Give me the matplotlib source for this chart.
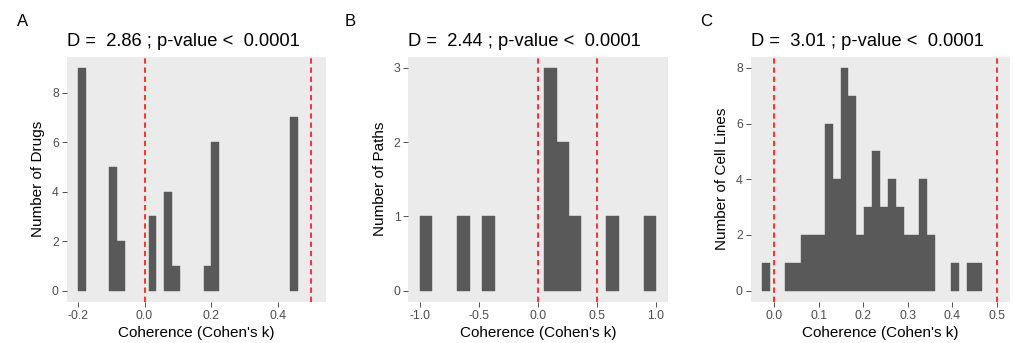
import numpy as np
import matplotlib
matplotlib.use("Agg")
import matplotlib.pyplot as plt

plt.rcParams['font.family'] = ['Liberation Sans', 'DejaVu Sans']

# histogram counts per bin (zero bins included)
drug_counts = [9, 0, 0, 0, 5, 2, 0, 0, 0, 3, 0, 4, 1, 0, 0, 0, 1, 6, 0, 0,
               0, 0, 0, 0, 0, 0, 0, 7, 0, 0]
path_counts = [1, 0, 0, 1, 0, 1, 0, 0, 0, 0, 3, 2, 1, 0, 0, 1, 0, 0, 1]
cell_counts = [1, 0, 0, 1, 1, 2, 2, 2, 6, 4, 8, 7, 2, 3, 5, 3, 4, 3, 2, 2,
               4, 2, 0, 0, 1, 0, 1, 1, 0, 0]

# first bin left edge and bin width for each panel
drug_start, drug_width = -0.2, 0.02358
path_start, path_width = -1.0, 2 / 19
cell_start, cell_width = -0.0276, 0.0177

titles = ["D =  2.86 ; p-value <  0.0001",
          "D =  2.44 ; p-value <  0.0001",
          "D =  3.01 ; p-value <  0.0001"]
ylabels = ["Number of Drugs", "Number of Paths", "Number of Cell Lines"]
panel_tags = ["A", "B", "C"]
vlines = [0.0, 0.5]

xticks = [[-0.2, 0.0, 0.2, 0.4],
          [-1.0, -0.5, 0.0, 0.5, 1.0],
          [0.0, 0.1, 0.2, 0.3, 0.4, 0.5]]
yticks = [[0, 2, 4, 6, 8], [0, 1, 2, 3], [0, 2, 4, 6, 8]]
xlims = [(-0.2334, 0.5446), (-1.099, 1.099), (-0.0523, 0.530)]
ylims = [(-0.45, 9.45), (-0.15, 3.15), (-0.4, 8.4)]

W, H = 1013, 343
fig = plt.figure(figsize=(W / 100, H / 100), dpi=100)

lefts = [66.7, 408.3, 750.7]
tag_x = [17, 345, 700]
panel_w = 259.4
bottom_px, top_px = 301.7, 56.7

data = [(drug_counts, drug_start, drug_width),
        (path_counts, path_start, path_width),
        (cell_counts, cell_start, cell_width)]

for i in range(3):
    ax = fig.add_axes([lefts[i] / W, 1 - bottom_px / H, panel_w / W,
                       (bottom_px - top_px) / H])
    counts, start, width = data[i]
    counts = np.array(counts)
    edges = start + width * np.arange(len(counts))
    keep = counts > 0
    ax.bar(edges[keep], counts[keep], width=width, align='edge',
           color='#595959', edgecolor='#595959', linewidth=0.3, zorder=2)
    for v in vlines:
        ax.axvline(v, color='#FF0000', linestyle=(0, (3.5, 2.5)),
                   linewidth=1.1, zorder=3)
    ax.set_facecolor('#EBEBEB')
    for s in ax.spines.values():
        s.set_visible(False)
    ax.set_xlim(*xlims[i])
    ax.set_ylim(*ylims[i])
    ax.set_xticks(xticks[i])
    ax.set_xticklabels([f"{t:.1f}" for t in xticks[i]])
    ax.set_yticks(yticks[i])
    ax.tick_params(axis='both', length=3.5, width=0.6, color='#333333',
                   labelcolor='#4D4D4D', labelsize=8.8, pad=2.2)
    ax.set_xlabel("Coherence (Cohen's k)", fontsize=11, labelpad=3)
    ax.set_ylabel(ylabels[i], fontsize=11, labelpad=5)
    ax.set_title(titles[i], loc='left', fontsize=13.2, pad=8)
    fig.text(tag_x[i] / W, 1 - 14 / H, panel_tags[i], fontsize=12,
             ha='left', va='top')

fig.savefig("out.png", dpi=100)
